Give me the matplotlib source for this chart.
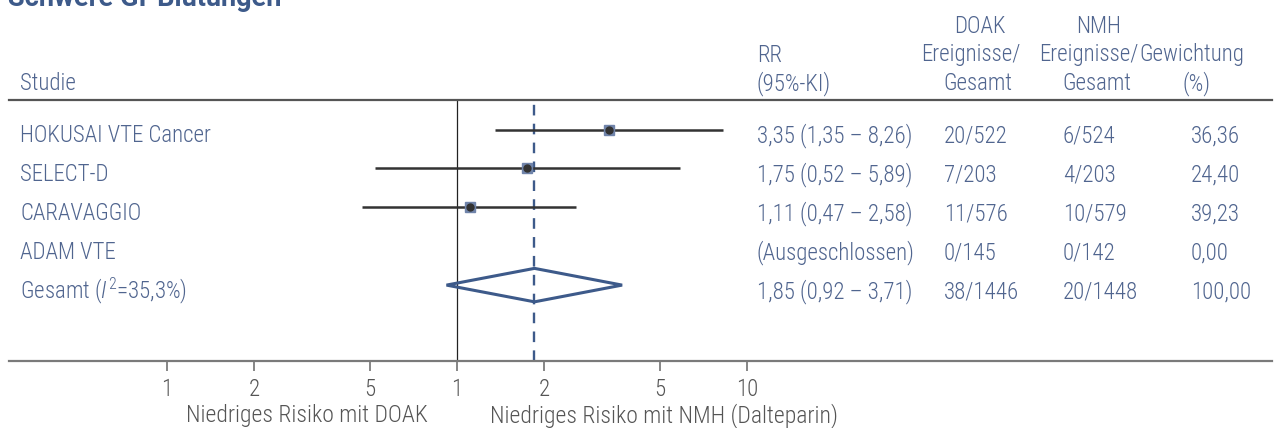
import matplotlib
matplotlib.use("Agg")
import matplotlib.pyplot as plt
from matplotlib.patches import Polygon
from matplotlib.transforms import blended_transform_factory

# --- data -------------------------------------------------------------------
studies = ["HOKUSAI VTE Cancer", "SELECT-D", "CARAVAGGIO", "ADAM VTE"]
rr = [3.35, 1.75, 1.11, None]
ci_lo = [1.35, 0.52, 0.47, None]
ci_hi = [8.26, 5.89, 2.58, None]
doak_events = ["20/522", "7/203", "11/576", "0/145"]
nmh_events = ["6/524", "4/203", "10/579", "0/142"]
weights = [36.36, 24.40, 39.23, 0.00]

pooled_rr, pooled_lo, pooled_hi = 1.85, 0.92, 3.71
pooled_i2 = 35.3
pooled_doak, pooled_nmh, pooled_weight = "38/1446", "20/1448", 100.00

tick_vals = [0.1, 0.2, 0.5, 1, 2, 5, 10]
tick_labels = ["1", "2", "5", "1", "2", "5", "10"]

# --- style ------------------------------------------------------------------
W, H = 1274, 428
BLUE = "#3d5a8a"
TXT = "#50658f"
GREY = "#555555"
FONT = "Roboto Condensed"
FS = 16.5

plt.rcParams["font.family"] = [FONT, "DejaVu Sans"]
plt.rcParams["font.weight"] = 300
plt.rcParams["mathtext.fontset"] = "custom"
plt.rcParams["mathtext.rm"] = "Roboto Condensed:light"
plt.rcParams["mathtext.it"] = "Roboto Condensed:italic:light"


def de(v):
    return f"{v:.2f}".replace(".", ",")


def px(x):
    return x / W


def py(y):
    return 1 - y / H


fig = plt.figure(figsize=(W / 100, H / 100), dpi=100)

# forest panel: log RR axis, rows top-down; 290 px per decade with RR=1 at x=457
top_px, bot_px, left_px, right_px = 99.5, 361, 9, 1272
row0, row_h = 129.5, 38.9
ax = fig.add_axes([px(left_px), py(bot_px), (right_px - left_px) / W, (bot_px - top_px) / H])
ax.set_xscale("log")
ax.set_xlim(10 ** ((left_px - 457) / 290), 10 ** ((right_px - 457) / 290))
ax.set_ylim((bot_px - row0) / row_h, (top_px - row0) / row_h)
ax.patch.set_alpha(0)

for side in ("left", "right"):
    ax.spines[side].set_visible(False)
ax.spines["top"].set_color("#555555")
ax.spines["top"].set_linewidth(1.6)
ax.spines["bottom"].set_color("#7a7a7a")
ax.spines["bottom"].set_linewidth(1.6)

ax.set_xticks(tick_vals)
ax.set_xticklabels(tick_labels)
ax.minorticks_off()
ax.set_yticks([])
ax.tick_params(axis="x", length=7, width=1.1, color="#666666", pad=5,
               labelsize=FS, labelcolor=GREY)

# reference lines
ax.axvline(1, color="#222222", lw=0.9, zorder=1)
ax.axvline(pooled_rr, color=BLUE, lw=1.7, dashes=(4.5, 3.5), zorder=1)

# study estimates
for i, (m, lo, hi) in enumerate(zip(rr, ci_lo, ci_hi)):
    if m is None:
        continue
    ax.hlines(i, lo, hi, color="#333333", lw=1.8, zorder=2)
    ax.plot(m, i, "s", ms=6.5, color="#7084aa", zorder=3)
    ax.plot(m, i, "o", ms=5, color="#333333", zorder=4)

# pooled diamond
yp = len(studies)
dh = 0.43
diamond = Polygon([(pooled_lo, yp), (pooled_rr, yp - dh), (pooled_hi, yp), (pooled_rr, yp + dh)],
                  closed=True, fill=False, edgecolor=BLUE, lw=2.2, joinstyle="miter", zorder=3)
ax.add_patch(diamond)

# table text
tr = blended_transform_factory(fig.transFigure, ax.transData)
base = 13 / row_h
COL_NAME, COL_RR, COL_DOAK, COL_NMH, COL_W = 20, 757, 944, 1063, 1191


def row_text(x, i, s, **kw):
    ax.text(px(x), i + base, s, transform=tr, ha="left", va="baseline",
            fontsize=FS, color=TXT, clip_on=False, **kw)


for i, name in enumerate(studies):
    row_text(COL_NAME, i, name)
    if rr[i] is None:
        row_text(COL_RR, i, "(Ausgeschlossen)")
    else:
        row_text(COL_RR, i, f"{de(rr[i])} ({de(ci_lo[i])} \u2013 {de(ci_hi[i])})")
    row_text(COL_DOAK, i, doak_events[i])
    row_text(COL_NMH, i, nmh_events[i])
    row_text(COL_W, i, de(weights[i]))

row_text(COL_NAME, yp, f"Gesamt ($\\mathit{{I}}^2$={pooled_i2:.1f}%)".replace(".", ","))
row_text(COL_RR, yp, f"{de(pooled_rr)} ({de(pooled_lo)} \u2013 {de(pooled_hi)})")
row_text(COL_DOAK, yp, pooled_doak)
row_text(COL_NMH, yp, pooled_nmh)
row_text(COL_W, yp, de(pooled_weight))

# header
hdr = [33, 61.5, 90.5]


def head(x, line, s, ha="left"):
    fig.text(px(x), py(hdr[line]), s, ha=ha, va="baseline", fontsize=FS, color=TXT)


head(COL_NAME, 2, "Studie")
head(COL_RR, 1, "RR")
head(COL_RR, 2, "(95%-KI)")
for line, (s, xc) in enumerate(zip(["DOAK", "Ereignisse/", "Gesamt"], [980, 971, 978])):
    head(xc, line, s, ha="center")
for line, (s, xc) in enumerate(zip(["NMH", "Ereignisse/", "Gesamt"], [1099, 1089, 1097])):
    head(xc, line, s, ha="center")
head(1192, 1, "Gewichtung", ha="center")
head(1197, 2, "(%)", ha="center")

# title (runs off the top edge)
fig.text(px(8), py(6), "Schwere GI-Blutungen", ha="left", va="baseline",
         fontsize=19.5, fontweight="bold", family="Roboto", color=BLUE)

# direction labels under the axis
fig.text(px(428), py(422), "Niedriges Risiko mit DOAK", ha="right", va="baseline",
         fontsize=17, color=GREY)
fig.text(px(490), py(422), "Niedriges Risiko mit NMH (Dalteparin)", ha="left", va="baseline",
         fontsize=17, color=GREY)

fig.savefig("out.png", dpi=100)
